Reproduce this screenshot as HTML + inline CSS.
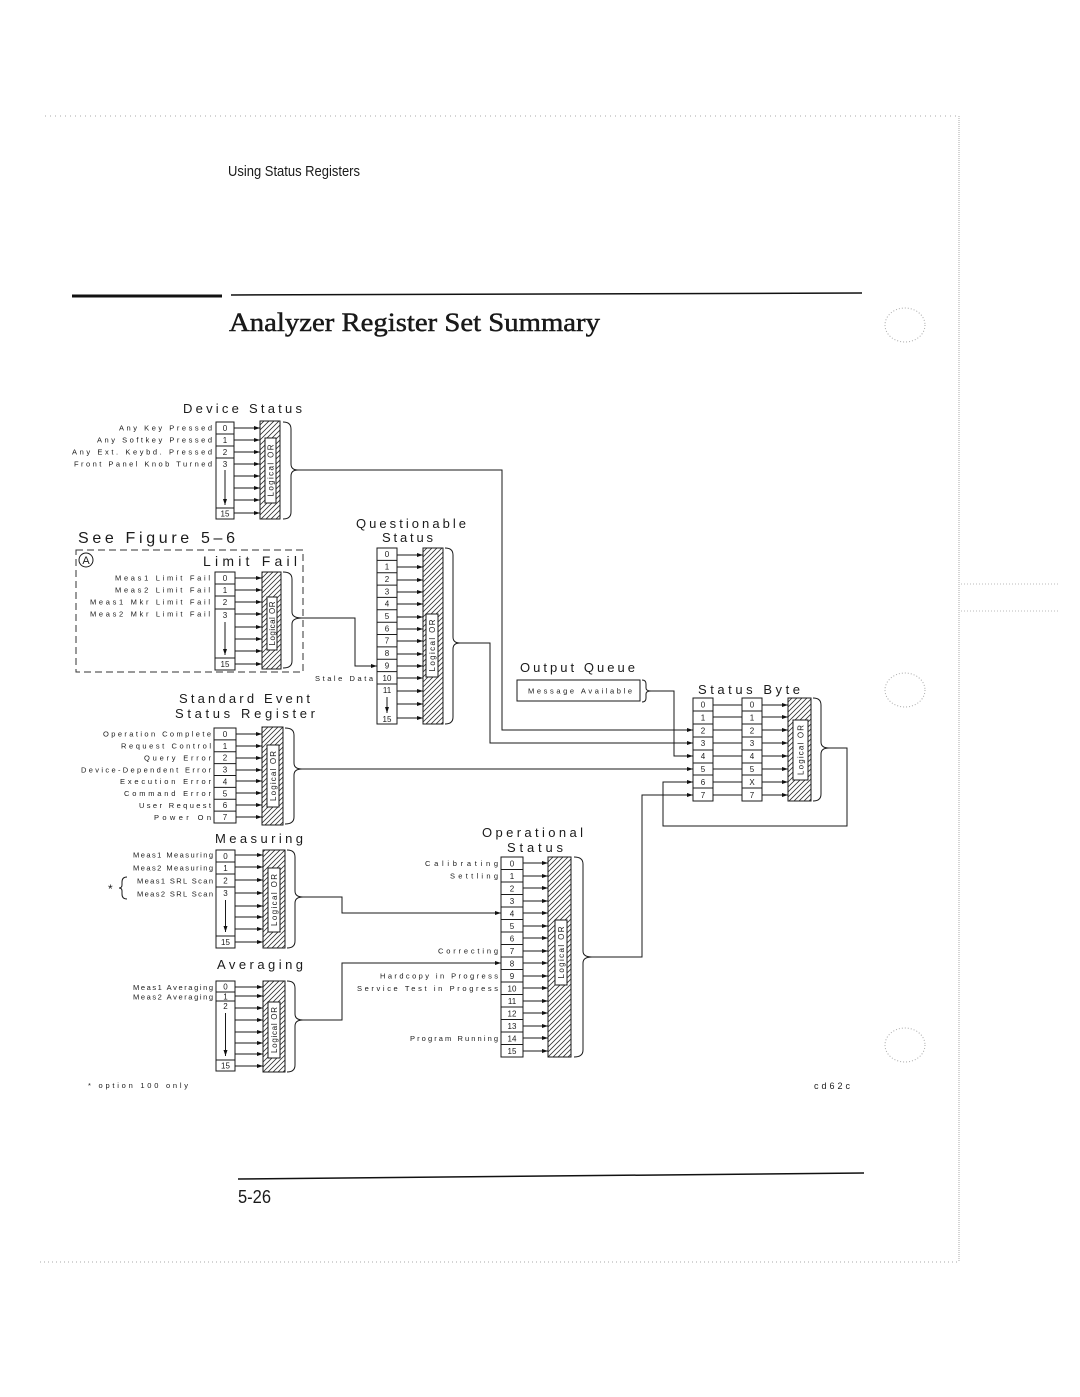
<!DOCTYPE html>
<html><head><meta charset="utf-8"><style>
html,body{margin:0;padding:0;background:#fff;}
svg{display:block;}
text{font-family:"Liberation Sans",sans-serif;fill:#1a1a1a;}
.l{font-size:7.5px;text-anchor:end;}
.d{font-size:8px;text-anchor:middle;}
.ti{font-size:13px;}
.o{font-size:8px;text-anchor:middle;}
.s{stroke:#1a1a1a;stroke-width:1;fill:none;}
.b{stroke:#1a1a1a;stroke-width:1;fill:#fff;}
.h{stroke:#1a1a1a;stroke-width:1;fill:url(#h);}
</style></head><body>
<svg width="1080" height="1397" viewBox="0 0 1080 1397" xmlns="http://www.w3.org/2000/svg">
<defs>
<marker id="a" viewBox="0 0 6 4" refX="6" refY="2" markerWidth="6" markerHeight="4" markerUnits="userSpaceOnUse" orient="auto"><path d="M0,0 L6,2 L0,4 z" fill="#111"/></marker>
<pattern id="h" patternUnits="userSpaceOnUse" width="5" height="5"><path d="M-1,1 L1,-1 M0,5 L5,0 M4,6 L6,4" stroke="#333" stroke-width="0.8"/></pattern>
</defs>

<!-- page decorations -->
<line x1="45" y1="116" x2="958" y2="116" stroke="#aaa" stroke-width="1" stroke-dasharray="1 4"/>
<line x1="959" y1="116" x2="959" y2="1262" stroke="#aaa" stroke-width="1" stroke-dasharray="1 1"/>
<line x1="40" y1="1262" x2="958" y2="1262" stroke="#aaa" stroke-width="1" stroke-dasharray="1 3"/>
<line x1="961" y1="584" x2="1058" y2="584" stroke="#bbb" stroke-width="1" stroke-dasharray="1 2"/>
<line x1="961" y1="611" x2="1058" y2="611" stroke="#bbb" stroke-width="1" stroke-dasharray="1 2"/>
<ellipse cx="905" cy="325" rx="20" ry="17" stroke="#aaa" fill="none" stroke-dasharray="1 2"/>
<ellipse cx="905" cy="690" rx="20" ry="17" stroke="#aaa" fill="none" stroke-dasharray="1 2"/>
<ellipse cx="905" cy="1045" rx="20" ry="17" stroke="#aaa" fill="none" stroke-dasharray="1 2"/>

<!-- header -->
<text x="228" y="176" font-size="15" textLength="132" lengthAdjust="spacingAndGlyphs">Using Status Registers</text>
<line x1="72" y1="296" x2="222" y2="296" stroke="#111" stroke-width="3"/>
<line x1="231" y1="295" x2="862" y2="293" stroke="#111" stroke-width="1.5"/>
<text x="229" y="331" font-size="26" style="font-family:'Liberation Serif',serif" stroke="#111" stroke-width="0.45" textLength="371" lengthAdjust="spacingAndGlyphs">Analyzer Register Set Summary</text>

<!-- ================= Device Status ================= -->
<text class="ti" x="183" y="413" textLength="119">Device Status</text>
<text class="l" x="212" y="430.7" textLength="93">Any Key Pressed</text>
<text class="l" x="212" y="442.7" textLength="115">Any Softkey Pressed</text>
<text class="l" x="212" y="454.7" textLength="140">Any Ext. Keybd. Pressed</text>
<text class="l" x="212" y="466.7" textLength="138">Front Panel Knob Turned</text>
<rect class="b" x="216" y="422" width="18" height="97"/>
<path class="s" d="M216,434H234M216,446H234M216,458H234M216,508H234"/>
<text class="d" x="225" y="431">0</text><text class="d" x="225" y="443">1</text><text class="d" x="225" y="455">2</text><text class="d" x="225" y="467">3</text><text class="d" x="225" y="516.5">15</text>
<line class="s" x1="225" y1="470" x2="225" y2="505" marker-end="url(#a)"/>
<g class="s" marker-end="url(#a)">
<path d="M234,428H260"/><path d="M234,440H260"/><path d="M234,452H260"/><path d="M234,464H260"/><path d="M234,476H260"/><path d="M234,488H260"/><path d="M234,500H260"/><path d="M234,513H260"/>
</g>
<rect class="h" x="260" y="421" width="20" height="98"/>
<rect class="b" x="265" y="438" width="11" height="65"/>
<text class="o" transform="translate(273.5,470.5) rotate(-90)" textLength="52">Logical OR</text>
<path class="s" d="M283,422 Q291,422 291,429 V464 Q291,470 298,470 Q291,470 291,476 V512 Q291,519 283,519"/>

<!-- ================= Limit Fail ================= -->
<text x="78" y="543" font-size="16" textLength="157">See Figure 5–6</text>
<rect x="76" y="550" width="227" height="122" fill="none" stroke="#333" stroke-width="1" stroke-dasharray="7 4"/>
<circle cx="86" cy="560" r="7" class="s"/>
<text x="86" y="564" font-size="11" text-anchor="middle">A</text>
<text x="203" y="566" font-size="14" textLength="94">Limit Fail</text>
<text class="l" x="210" y="580.7" textLength="95">Meas1 Limit Fail</text>
<text class="l" x="210" y="592.7" textLength="95">Meas2 Limit Fail</text>
<text class="l" x="210" y="604.7" textLength="120">Meas1 Mkr Limit Fail</text>
<text class="l" x="210" y="616.7" textLength="120">Meas2 Mkr Limit Fail</text>
<rect class="b" x="215" y="572" width="20" height="98"/>
<path class="s" d="M215,584H235M215,596H235M215,609H235M215,658H235"/>
<text class="d" x="225" y="581">0</text><text class="d" x="225" y="593">1</text><text class="d" x="225" y="605">2</text><text class="d" x="225" y="618">3</text><text class="d" x="225" y="667">15</text>
<line class="s" x1="225" y1="622" x2="225" y2="655" marker-end="url(#a)"/>
<g class="s" marker-end="url(#a)">
<path d="M235,578H262"/><path d="M235,590H262"/><path d="M235,602H262"/><path d="M235,614H262"/><path d="M235,627H262"/><path d="M235,639H262"/><path d="M235,651H262"/><path d="M235,664H262"/>
</g>
<rect class="h" x="262" y="572" width="19" height="97"/>
<rect class="b" x="267" y="597" width="10" height="53"/>
<text class="o" transform="translate(275,623.5) rotate(-90)" textLength="44">Logical OR</text>
<path class="s" d="M283,572 Q292,572 292,579 V612 Q292,618 302,618 Q292,618 292,624 V661 Q292,668 283,668"/>
<path class="s" d="M302,618 H355 V666 H377" marker-end="url(#a)"/>

<!-- ================= Questionable Status ================= -->
<text class="ti" x="356" y="528" textLength="110">Questionable</text>
<text class="ti" x="382" y="542" textLength="51">Status</text>
<rect class="b" x="377" y="548" width="20" height="176"/>
<path class="s" d="M377,560.4H397M377,572.7H397M377,585.1H397M377,597.4H397M377,609.8H397M377,622.2H397M377,634.5H397M377,646.9H397M377,659.2H397M377,671.6H397M377,684H397"/>
<text class="d" x="387" y="557.2">0</text><text class="d" x="387" y="569.6">1</text><text class="d" x="387" y="581.9">2</text><text class="d" x="387" y="594.3">3</text><text class="d" x="387" y="606.6">4</text><text class="d" x="387" y="619">5</text><text class="d" x="387" y="631.4">6</text><text class="d" x="387" y="643.7">7</text><text class="d" x="387" y="656.1">8</text><text class="d" x="387" y="668.4">9</text><text class="d" x="387" y="680.8">10</text><text class="d" x="387" y="693.2">11</text><text class="d" x="387" y="722">15</text>
<line class="s" x1="387" y1="697" x2="387" y2="713" marker-end="url(#a)"/>
<text class="l" x="373" y="681" textLength="58">Stale Data</text>
<g class="s" marker-end="url(#a)">
<path d="M397,555H423"/><path d="M397,567H423"/><path d="M397,580H423"/><path d="M397,592H423"/><path d="M397,604H423"/><path d="M397,617H423"/><path d="M397,629H423"/><path d="M397,641H423"/><path d="M397,654H423"/><path d="M397,666H423"/><path d="M397,678H423"/><path d="M397,691H423"/><path d="M397,704H423"/><path d="M397,718H423"/>
</g>
<rect class="h" x="423" y="548" width="20" height="176"/>
<rect class="b" x="426" y="614" width="12" height="63"/>
<text class="o" transform="translate(435,645.5) rotate(-90)" textLength="52">Logical OR</text>
<path class="s" d="M445,548 Q453,548 453,555 V637 Q453,643 460,643 Q453,643 453,649 V717 Q453,724 445,724"/>

<!-- ================= Standard Event ================= -->
<text class="ti" x="179" y="703" textLength="131">Standard Event</text>
<text class="ti" x="175" y="718" textLength="140">Status Register</text>
<text class="l" x="211" y="736.6" textLength="108">Operation Complete</text>
<text class="l" x="211" y="748.5" textLength="90">Request Control</text>
<text class="l" x="211" y="760.4" textLength="67">Query Error</text>
<text class="l" x="211" y="772.3" textLength="130">Device-Dependent Error</text>
<text class="l" x="211" y="784.1" textLength="91">Execution Error</text>
<text class="l" x="211" y="796" textLength="87">Command Error</text>
<text class="l" x="211" y="807.9" textLength="72">User Request</text>
<text class="l" x="211" y="819.8" textLength="57">Power On</text>
<rect class="b" x="214" y="728" width="22" height="95"/>
<path class="s" d="M214,739.9H236M214,751.8H236M214,763.6H236M214,775.5H236M214,787.4H236M214,799.3H236M214,811.1H236"/>
<text class="d" x="225" y="736.9">0</text><text class="d" x="225" y="748.8">1</text><text class="d" x="225" y="760.7">2</text><text class="d" x="225" y="772.5">3</text><text class="d" x="225" y="784.4">4</text><text class="d" x="225" y="796.3">5</text><text class="d" x="225" y="808.1">6</text><text class="d" x="225" y="820">7</text>
<g class="s" marker-end="url(#a)">
<path d="M236,734H262"/><path d="M236,746H262"/><path d="M236,758H262"/><path d="M236,770H262"/><path d="M236,781H262"/><path d="M236,793H262"/><path d="M236,805H262"/><path d="M236,817H262"/>
</g>
<rect class="h" x="262" y="727" width="21" height="98"/>
<rect class="b" x="267" y="745" width="12" height="62"/>
<text class="o" transform="translate(276,776) rotate(-90)" textLength="50">Logical OR</text>
<path class="s" d="M285,728 Q294,728 294,735 V763 Q294,769 302,769 Q294,769 294,775 V817 Q294,824 285,824"/>

<!-- ================= Output Queue ================= -->
<text class="ti" x="520" y="672" textLength="115">Output Queue</text>
<rect class="b" x="517" y="680" width="123" height="21"/>
<text x="528" y="693.5" font-size="7.5" textLength="104">Message Available</text>
<path class="s" d="M642,680 Q646,680 646,684 V688 Q646,691 651,691 Q646,691 646,694 V698 Q646,702 642,702"/>

<!-- ================= Status Byte ================= -->
<text class="ti" x="698" y="694" textLength="102">Status Byte</text>
<rect class="b" x="693" y="698" width="20" height="103"/>
<path class="s" d="M693,711H713M693,724H713M693,737H713M693,750H713M693,763H713M693,775H713M693,788H713"/>
<rect class="b" x="742" y="698" width="20" height="103"/>
<path class="s" d="M742,711H762M742,724H762M742,737H762M742,750H762M742,763H762M742,775H762M742,788H762"/>
<text class="d" x="703" y="707.5">0</text><text class="d" x="703" y="720.4">1</text><text class="d" x="703" y="733.3">2</text><text class="d" x="703" y="746.2">3</text><text class="d" x="703" y="759.1">4</text><text class="d" x="703" y="772">5</text><text class="d" x="703" y="784.9">6</text><text class="d" x="703" y="797.8">7</text>
<text class="d" x="752" y="707.5">0</text><text class="d" x="752" y="720.4">1</text><text class="d" x="752" y="733.3">2</text><text class="d" x="752" y="746.2">3</text><text class="d" x="752" y="759.1">4</text><text class="d" x="752" y="772">5</text><text class="d" x="752" y="784.9">X</text><text class="d" x="752" y="797.8">7</text>
<path class="s" d="M713,705H742M713,717H742M713,730H742M713,743H742M713,756H742M713,769H742M713,782H742M713,795H742"/>
<g class="s" marker-end="url(#a)">
<path d="M762,705H788"/><path d="M762,717H788"/><path d="M762,730H788"/><path d="M762,743H788"/><path d="M762,756H788"/><path d="M762,769H788"/><path d="M762,782H788"/><path d="M762,795H788"/>
</g>
<rect class="h" x="788" y="698" width="23" height="103"/>
<rect class="b" x="793" y="720" width="15" height="60"/>
<text class="o" transform="translate(803.5,750) rotate(-90)" textLength="50">Logical OR</text>
<path class="s" d="M813,698 Q821,698 821,705 V742 Q821,748 829,748 Q821,748 821,754 V794 Q821,801 813,801"/>

<!-- connectors into status byte -->
<g class="s" marker-end="url(#a)">
<path d="M298,470 H502 V730 H693"/>
<path d="M460,643 H490 V743 H693"/>
<path d="M651,691 H674 V756 H693"/>
<path d="M302,769 H693"/>
<path d="M829,748 H847 V826 H663 V782 H693"/>
<path d="M592,957 H642 V795 H693"/>
</g>

<!-- ================= Measuring ================= -->
<text class="ti" x="215" y="843" textLength="88">Measuring</text>
<text class="l" x="213" y="857.7" textLength="80">Meas1 Measuring</text>
<text class="l" x="213" y="870.7" textLength="80">Meas2 Measuring</text>
<text class="l" x="213" y="883.7" textLength="76">Meas1 SRL Scan</text>
<text class="l" x="213" y="896.7" textLength="76">Meas2 SRL Scan</text>
<text x="108" y="893" font-size="12">*</text>
<path class="s" d="M127,877 Q122,877 122,882 V885 Q122,888 119,888 Q122,888 122,891 V894 Q122,899 127,899"/>
<rect class="b" x="216" y="850" width="19" height="98"/>
<path class="s" d="M216,862H235M216,874H235M216,887H235M216,936H235"/>
<text class="d" x="225.5" y="859">0</text><text class="d" x="225.5" y="871">1</text><text class="d" x="225.5" y="883.5">2</text><text class="d" x="225.5" y="896">3</text><text class="d" x="225.5" y="945">15</text>
<line class="s" x1="225.5" y1="900" x2="225.5" y2="932" marker-end="url(#a)"/>
<g class="s" marker-end="url(#a)">
<path d="M235,855H263"/><path d="M235,867H263"/><path d="M235,880H263"/><path d="M235,893H263"/><path d="M235,906H263"/><path d="M235,917H263"/><path d="M235,929H263"/><path d="M235,942H263"/>
</g>
<rect class="h" x="263" y="850" width="22" height="98"/>
<rect class="b" x="268" y="868" width="12" height="64"/>
<text class="o" transform="translate(277,900) rotate(-90)" textLength="52">Logical OR</text>
<path class="s" d="M287,850 Q295,850 295,857 V891 Q295,897 303,897 Q295,897 295,903 V941 Q295,948 287,948"/>
<path class="s" d="M303,897 H342 V913 H501" marker-end="url(#a)"/>

<!-- ================= Averaging ================= -->
<text class="ti" x="217" y="969" textLength="86">Averaging</text>
<text class="l" x="213" y="990" textLength="80">Meas1 Averaging</text>
<text class="l" x="213" y="999.5" textLength="80">Meas2 Averaging</text>
<rect class="b" x="216" y="981" width="19" height="90"/>
<path class="s" d="M216,992H235M216,1001H235M216,1060H235"/>
<text class="d" x="225.5" y="989.5">0</text><text class="d" x="225.5" y="999.5">1</text><text class="d" x="225.5" y="1009">2</text><text class="d" x="225.5" y="1068.5">15</text>
<line class="s" x1="225.5" y1="1013" x2="225.5" y2="1056" marker-end="url(#a)"/>
<g class="s" marker-end="url(#a)">
<path d="M235,987H263"/><path d="M235,996H263"/><path d="M235,1008H263"/><path d="M235,1020H263"/><path d="M235,1032H263"/><path d="M235,1043H263"/><path d="M235,1054H263"/><path d="M235,1066H263"/>
</g>
<rect class="h" x="263" y="981" width="22" height="91"/>
<rect class="b" x="268" y="1002" width="12" height="56"/>
<text class="o" transform="translate(277,1030) rotate(-90)" textLength="46">Logical OR</text>
<path class="s" d="M287,981 Q295,981 295,988 V1014 Q295,1020 303,1020 Q295,1020 295,1026 V1065 Q295,1072 287,1072"/>
<path class="s" d="M303,1020 H342 V963 H501" marker-end="url(#a)"/>

<!-- ================= Operational Status ================= -->
<text class="ti" x="482" y="837" textLength="101">Operational</text>
<text class="ti" x="507" y="852" textLength="56">Status</text>
<text class="l" x="498" y="865.9" textLength="73">Calibrating</text>
<text class="l" x="498" y="878.4" textLength="48">Settling</text>
<text class="l" x="498" y="953.4" textLength="60">Correcting</text>
<text class="l" x="498" y="978.4" textLength="118">Hardcopy in Progress</text>
<text class="l" x="498" y="990.9" textLength="141">Service Test in Progress</text>
<text class="l" x="498" y="1040.9" textLength="88">Program Running</text>
<rect class="b" x="501" y="857" width="22" height="200"/>
<path class="s" d="M501,869.5H523M501,882H523M501,894.5H523M501,907H523M501,919.5H523M501,932H523M501,944.5H523M501,957H523M501,969.5H523M501,982H523M501,994.5H523M501,1007H523M501,1019.5H523M501,1032H523M501,1044.5H523"/>
<text class="d" x="512" y="866.3">0</text><text class="d" x="512" y="878.8">1</text><text class="d" x="512" y="891.3">2</text><text class="d" x="512" y="903.8">3</text><text class="d" x="512" y="916.3">4</text><text class="d" x="512" y="928.8">5</text><text class="d" x="512" y="941.3">6</text><text class="d" x="512" y="953.8">7</text><text class="d" x="512" y="966.3">8</text><text class="d" x="512" y="978.8">9</text><text class="d" x="512" y="991.3">10</text><text class="d" x="512" y="1003.8">11</text><text class="d" x="512" y="1016.3">12</text><text class="d" x="512" y="1028.8">13</text><text class="d" x="512" y="1041.3">14</text><text class="d" x="512" y="1053.8">15</text>
<g class="s" marker-end="url(#a)">
<path d="M523,863H548"/><path d="M523,876H548"/><path d="M523,888H548"/><path d="M523,901H548"/><path d="M523,913H548"/><path d="M523,926H548"/><path d="M523,938H548"/><path d="M523,951H548"/><path d="M523,963H548"/><path d="M523,976H548"/><path d="M523,988H548"/><path d="M523,1001H548"/><path d="M523,1013H548"/><path d="M523,1026H548"/><path d="M523,1038H548"/><path d="M523,1051H548"/>
</g>
<rect class="h" x="548" y="857" width="23" height="200"/>
<rect class="b" x="555" y="920" width="12" height="65"/>
<text class="o" transform="translate(564,952.5) rotate(-90)" textLength="52">Logical OR</text>
<path class="s" d="M574,857 Q583,857 583,864 V951 Q583,957 592,957 Q583,957 583,963 V1050 Q583,1057 574,1057"/>

<!-- footer -->
<text x="88" y="1088" font-size="7.5" textLength="100">* option 100 only</text>
<text x="814" y="1089" font-size="9" textLength="36">cd62c</text>
<line x1="238" y1="1179" x2="864" y2="1173" stroke="#111" stroke-width="1.5"/>
<text x="238" y="1203" font-size="18" textLength="33" lengthAdjust="spacingAndGlyphs">5-26</text>
</svg>
</body></html>
